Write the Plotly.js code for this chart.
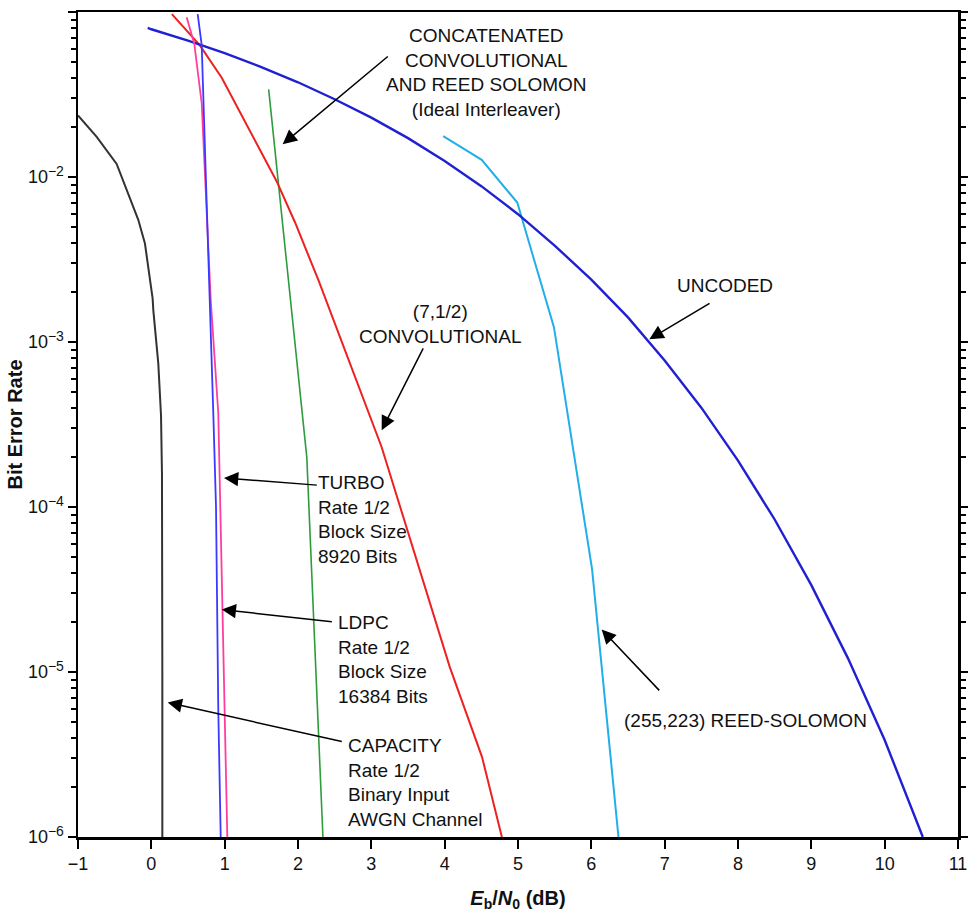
<!DOCTYPE html>
<html>
<head>
<meta charset="utf-8">
<script src="https://cdn.plot.ly/plotly-3.0.1.min.js"></script>
<style>html,body{margin:0;padding:0;background:#fff;}#chart{width:968px;height:921px;}</style>
</head>
<body>
<div id="chart"></div>
<script>
// ---- Data (Eb/N0 in dB, BER) ----
const uncodedX = [-0.05, 0, 0.5, 1, 1.5, 2, 2.5, 3, 3.5, 4, 4.5, 5, 5.5, 6, 6.5, 7, 7.5, 8, 8.5, 9, 9.5, 10, 10.52];
const uncodedY = [0.080, 0.0786, 0.0671, 0.0563, 0.0464, 0.0375, 0.0296, 0.0229, 0.0172, 0.0125, 0.0088, 0.00595, 0.00384, 0.00239, 0.00141, 0.000773, 0.000400, 0.000191, 8.4e-5, 3.36e-5, 1.21e-5, 3.87e-6, 1.0e-6];

const convX = [0.28, 0.66, 0.96, 1.30, 1.71, 1.96, 2.28, 3.14, 3.53, 4.07, 4.51, 4.78];
const convY = [0.097, 0.063, 0.040, 0.0206, 0.0094, 0.0053, 0.00236, 2.31e-4, 6.3e-5, 1.07e-5, 3.05e-6, 1.0e-6];

const concatX = [1.60, 1.73, 1.89, 2.12, 2.34];
const concatY = [0.034, 0.0093, 0.0019, 2.0e-4, 1.0e-6];

const rsX = [3.98, 4.505, 4.99, 5.49, 6.01, 6.37];
const rsY = [0.0177, 0.0127, 0.0070, 1.23e-3, 4.2e-5, 1.0e-6];

const turboX = [0.632, 0.687, 0.709, 0.80, 0.845, 0.882, 0.913, 0.946];
const turboY = [0.097, 0.063, 0.0305, 1.84e-3, 3.7e-4, 1.0e-4, 5.9e-6, 1.0e-6];

const ldpcX = [0.482, 0.586, 0.687, 0.81, 0.913, 0.96, 0.98, 1.036];
const ldpcY = [0.093, 0.064, 0.028, 1.8e-3, 3.7e-4, 4.0e-5, 2.3e-5, 1.0e-6];

const capX = [-1.0, -0.745, -0.473, -0.178, -0.087, 0.018, 0.027, 0.095, 0.132, 0.145, 0.15, 0.15];
const capY = [0.0236, 0.0175, 0.012, 5.5e-3, 3.95e-3, 1.83e-3, 1.56e-3, 7.4e-4, 3.6e-4, 1.6e-4, 1.0e-5, 1.0e-6];

const yTickVals = [1e-6, 1e-5, 1e-4, 1e-3, 1e-2, 1e-1];
const yTickExp = ['\u22126', '\u22125', '\u22124', '\u22123', '\u22122', '\u22121'];
const xTickVals = [-1, 0, 1, 2, 3, 4, 5, 6, 7, 8, 9, 10, 11];
const xTickText = ['\u22121', '0', '1', '2', '3', '4', '5', '6', '7', '8', '9', '10', '11'];

const yTickText = yTickExp.map(e => '10<sup><span style="font-size:14px">' + e + '</span></sup>');

const minorVals = [];
for (let e = -6; e < -1; e++) for (let m = 2; m <= 9; m++) minorVals.push(m * Math.pow(10, e));

const traces = [
  {x: capX, y: capY, color: '#333333', w: 2},
  {x: concatX, y: concatY, color: '#2e9c3c', w: 1.6},
  {x: rsX, y: rsY, color: '#22aee8', w: 2},
  {x: convX, y: convY, color: '#ee2020', w: 2},
  {x: uncodedX, y: uncodedY, color: '#2020d2', w: 2.4},
  {x: ldpcX, y: ldpcY, color: '#ff3d9e', w: 1.8},
  {x: turboX, y: turboY, color: '#3a3aff', w: 1.8}
].map(t => ({x: t.x, y: t.y, type: 'scatter', mode: 'lines', line: {color: t.color, width: t.w}, hoverinfo: 'skip', showlegend: false}));

const font = {family: 'Liberation Sans, Arial, sans-serif', size: 19, color: '#111'};
function lg(v) { return Math.log10(v); }

function arrow(x, y, ax, ay) {
  return {x: x, y: lg(y), xref: 'x', yref: 'y', text: '', showarrow: true, ax: ax, ay: ay,
    arrowhead: 2, arrowsize: 1.9, arrowwidth: 1.5, arrowcolor: '#000', standoff: 0, startstandoff: 0};
}
function label(x, y, text, xanchor, align) {
  return {x: x, y: lg(y), xref: 'x', yref: 'y', text: text, showarrow: false,
    xanchor: xanchor, yanchor: 'middle', align: align, font: font};
}

const annotations = [
  label(4.577, 0.0428, 'CONCATENATED<br>CONVOLUTIONAL<br>AND REED SOLOMON<br>(Ideal Interleaver)', 'center', 'center'),
  arrow(1.791, 0.0158, 106.6, -89),
  label(7.823, 0.00221, 'UNCODED', 'center', 'center'),
  arrow(6.791, 0.00104, 61.7, -36.6),
  label(3.937, 0.00128, '(7,1/2)<br>CONVOLUTIONAL', 'center', 'center'),
  arrow(3.141, 0.000292, 42.3, -83.3),
  label(2.24, 8.4e-5, 'TURBO<br>Rate 1/2<br>Block Size<br>8920 Bits', 'left', 'left'),
  arrow(0.991, 0.00015, 94.3, 7.3),
  label(2.52, 1.19e-5, 'LDPC<br>Rate 1/2<br>Block Size<br>16384 Bits', 'left', 'left'),
  arrow(0.960, 2.39e-5, 111.6, 12.4),
  label(2.66, 2.14e-6, 'CAPACITY<br>Rate 1/2<br>Binary Input<br>AWGN Channel', 'left', 'left'),
  arrow(0.223, 6.53e-6, 175.6, 39.4),
  label(8.105, 5.05e-6, '(255,223) REED-SOLOMON', 'center', 'center'),
  arrow(6.141, 1.81e-5, 59, 62.4)
];

const layout = {
  width: 968, height: 921,
  margin: {l: 78, r: 10, t: 12, b: 84},
  paper_bgcolor: '#fff', plot_bgcolor: '#fff',
  font: {family: 'Liberation Sans, Arial, sans-serif', size: 17, color: '#111'},
  showlegend: false,
  xaxis: {
    range: [-1, 11], tickmode: 'array', tickvals: xTickVals, ticktext: xTickText,
    showgrid: false, zeroline: false, showline: true, linecolor: '#000', linewidth: 2.5, mirror: true,
    ticks: 'outside', ticklen: 9, tickwidth: 2, tickcolor: '#000',
    tickfont: {size: 18},
    title: {text: '<b><i>E</i><sub>b</sub>/<i>N</i><sub>0</sub> (dB)</b>', font: {size: 20}, standoff: 18}
  },
  yaxis: {
    type: 'log', range: [-6, -1], tickmode: 'array', tickvals: yTickVals, ticktext: yTickText,
    showgrid: false, zeroline: false, showline: true, linecolor: '#000', linewidth: 2.5, mirror: 'allticks',
    ticks: 'outside', ticklen: 8, tickwidth: 2, tickcolor: '#000',
    tickfont: {size: 18},
    minor: {tickmode: 'array', tickvals: minorVals, ticks: 'outside', ticklen: 5, tickwidth: 2, tickcolor: '#000', showgrid: false},
    title: {text: '<b>Bit Error Rate</b>', font: {size: 20}, standoff: 0}
  },
  annotations: annotations
};

Plotly.newPlot('chart', traces, layout, {displayModeBar: false, staticPlot: true});
</script>
</body>
</html>
